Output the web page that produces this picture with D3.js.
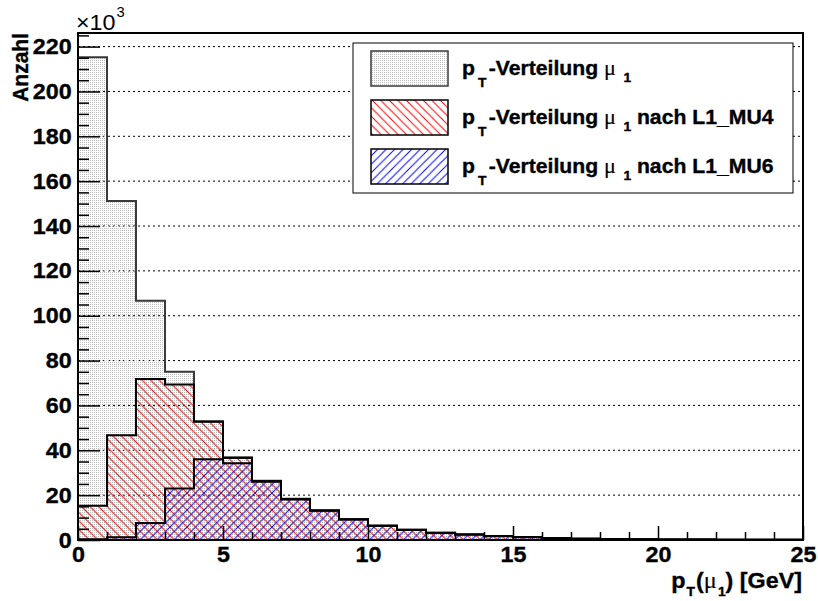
<!DOCTYPE html>
<html>
<head>
<meta charset="utf-8">
<script src="https://cdn.jsdelivr.net/npm/d3@7/dist/d3.min.js"></script>
<style>
  html, body { margin: 0; padding: 0; background: #fff; }
  svg { display: block; }
</style>
</head>
<body>
<svg id="chart" width="818" height="601"></svg>
<script>
// Histogram binning (GeV)
const binFirst = 0;
const binWidth = 1;
const xDomain = [0, 25];

// Entries per bin, in units of 10^3
const ptAll = [215.3, 151.2, 106.7, 75.0, 52.9, 36.9, 26.4, 18.4, 13.3, 9.2,
               6.4, 4.6, 3.2, 2.5, 1.8, 1.3, 0.9, 0.6, 0.45, 0.35,
               0.25, 0.2, 0.15, 0.1, 0.08];
const ptMU4 = [15.3, 46.7, 71.8, 69.3, 52.7, 36.6, 26.3, 18.3, 13.2, 9.2,
               6.4, 4.6, 3.2, 2.5, 1.8, 1.3, 0.9, 0.6, 0.45, 0.35,
               0.25, 0.2, 0.15, 0.1, 0.08];
const ptMU6 = [0.3, 1.2, 7.6, 23.0, 36.0, 34.2, 26.0, 18.1, 13.0, 9.1,
               6.3, 4.5, 3.1, 2.4, 1.7, 1.2, 0.85, 0.55, 0.4, 0.3,
               0.22, 0.18, 0.13, 0.09, 0.07];

const yTickValues = [0, 20, 40, 60, 80, 100, 120, 140, 160, 180, 200, 220];
const xTickValues = [0, 5, 10, 15, 20, 25];
const legendSuffix = ["", " nach L1_MU4", " nach L1_MU6"];

const SANS = "'Liberation Sans', Arial, Helvetica, sans-serif";
const SERIF = "'Liberation Serif', 'Times New Roman', serif";
const SX = 1.06;     // horizontal text stretch
const HEAVY = 0.35;  // extra outline on bold text

const svg = d3.select("#chart");
const frame = { left: 78, right: 803, top: 33, bottom: 540 };

const x = d3.scaleLinear().domain(xDomain).range([frame.left, frame.right]);
const yMax = 1.05 * d3.max(ptAll);
const y = d3.scaleLinear().domain([0, yMax]).range([frame.bottom, frame.top]);

function heavy(sel) {
  return sel.attr("stroke", "#000").attr("stroke-width", HEAVY).attr("paint-order", "stroke");
}

// ---- fill patterns ----
const defs = svg.append("defs");
defs.append("pattern")
  .attr("id", "dots").attr("patternUnits", "userSpaceOnUse")
  .attr("width", 2).attr("height", 2)
  .append("rect").attr("width", 1).attr("height", 1).attr("fill", "#bcbcbc");

const hs = 8.5;
defs.append("pattern")
  .attr("id", "hatchRed").attr("patternUnits", "userSpaceOnUse")
  .attr("width", hs).attr("height", hs)
  .append("path")
  .attr("d", `M0,0L${hs},${hs}M-1,${hs-1}L1,${hs+1}M${hs-1},-1L${hs+1},1`)
  .attr("stroke", "#ff0000").attr("stroke-width", 1).attr("fill", "none");
defs.append("pattern")
  .attr("id", "hatchBlue").attr("patternUnits", "userSpaceOnUse")
  .attr("width", hs).attr("height", hs)
  .append("path")
  .attr("d", `M0,${hs}L${hs},0M-1,1L1,-1M${hs-1},${hs+1}L${hs+1},${hs-1}`)
  .attr("stroke", "#0000ff").attr("stroke-width", 1).attr("fill", "none");

// ---- grid ----
svg.append("g")
  .selectAll("line")
  .data(yTickValues.filter(v => v > 0))
  .join("line")
  .attr("x1", frame.left).attr("x2", frame.right)
  .attr("y1", d => y(d)).attr("y2", d => y(d))
  .attr("stroke", "#000").attr("stroke-width", 1)
  .attr("stroke-dasharray", "2,3");

// ---- histograms ----
function stepPoints(values) {
  const pts = [[x(binFirst), y(0)]];
  values.forEach((v, i) => {
    const lo = binFirst + i * binWidth, hi = lo + binWidth;
    pts.push([x(lo), y(v)], [x(hi), y(v)]);
  });
  pts.push([x(binFirst + values.length * binWidth), y(0)]);
  return pts;
}
const line = d3.line();
const series = [
  { values: ptAll, fill: "url(#dots)", stroke: "#3a3a3a" },
  { values: ptMU4, fill: "url(#hatchRed)", stroke: "#000" },
  { values: ptMU6, fill: "url(#hatchBlue)", stroke: "#000" }
];
svg.append("g")
  .selectAll("path")
  .data(series)
  .join("path")
  .attr("d", d => line(stepPoints(d.values)) + "Z")
  .attr("fill", d => d.fill)
  .attr("stroke", d => d.stroke)
  .attr("stroke-width", 2)
  .attr("stroke-linejoin", "miter");

// ---- axes ----
function styleAxis(g) {
  g.select(".domain").remove();
  g.selectAll(".tick line").attr("stroke", "#000").attr("stroke-width", 1.5);
}
const yMinor = d3.range(0, 226, 5).filter(v => v % 20 !== 0);
const xMinor = d3.range(0, 26, 1).filter(v => v % 5 !== 0);

svg.append("g")
  .attr("transform", `translate(${frame.left},0)`)
  .call(d3.axisLeft(y).tickValues(yMinor).tickSizeInner(-11).tickSizeOuter(0).tickFormat(""))
  .call(styleAxis);
const yAx = svg.append("g")
  .attr("transform", `translate(${frame.left},0)`)
  .call(d3.axisLeft(y).tickValues(yTickValues).tickSizeInner(-22).tickSizeOuter(0).tickPadding(6))
  .call(styleAxis);
yAx.selectAll("text")
  .attr("font-family", SANS).attr("font-weight", "bold").attr("font-size", 22)
  .attr("fill", "#000").attr("transform", `scale(${SX},1)`)
  .call(heavy);

svg.append("g")
  .attr("transform", `translate(0,${frame.bottom})`)
  .call(d3.axisBottom(x).tickValues(xMinor).tickSizeInner(-8).tickSizeOuter(0).tickFormat(""))
  .call(styleAxis);
const xAx = svg.append("g")
  .attr("transform", `translate(0,${frame.bottom})`)
  .call(d3.axisBottom(x).tickValues(xTickValues).tickSizeInner(-14).tickSizeOuter(0).tickPadding(6))
  .call(styleAxis);
xAx.selectAll("text")
  .attr("font-family", SANS).attr("font-weight", "bold").attr("font-size", 22)
  .attr("fill", "#000").attr("transform", `scale(${SX},1)`)
  .call(heavy);

// frame
svg.append("rect")
  .attr("x", frame.left).attr("y", frame.top)
  .attr("width", frame.right - frame.left).attr("height", frame.bottom - frame.top)
  .attr("fill", "none").attr("stroke", "#000").attr("stroke-width", 2);

// ---- axis titles ----
const expo = svg.append("text")
  .attr("transform", `translate(76,30) scale(${SX},1)`)
  .attr("font-family", SANS).attr("font-size", 22).attr("fill", "#000");
expo.append("tspan").text("×10");
expo.append("tspan").attr("font-size", 14).attr("dy", -13).attr("dx", 1).text("3");

svg.append("text")
  .attr("transform", `translate(28,33) rotate(-90) scale(1,${SX})`)
  .attr("text-anchor", "end")
  .attr("font-family", SANS).attr("font-weight", "bold").attr("font-size", 21)
  .attr("fill", "#000")
  .call(heavy)
  .text("Anzahl");

const xt = svg.append("text")
  .attr("transform", `translate(802,588) scale(${SX},1)`)
  .attr("text-anchor", "end")
  .attr("font-family", SANS).attr("font-weight", "bold").attr("font-size", 22)
  .attr("fill", "#000")
  .call(heavy);
xt.append("tspan").text("p");
xt.append("tspan").attr("font-size", 13).attr("dy", 8).attr("dx", 1).text("T");
xt.append("tspan").attr("dy", -8).attr("dx", 1).text("(");
xt.append("tspan").attr("font-family", SERIF).attr("font-weight", "normal").attr("stroke-width", 0.15).attr("font-size", 23).text("μ");
xt.append("tspan").attr("font-size", 13).attr("dy", 8).attr("dx", 1).text("1");
xt.append("tspan").attr("dy", -8).text(") [GeV]");

// ---- legend ----
const leg = svg.append("g");
leg.append("rect")
  .attr("x", 353).attr("y", 43).attr("width", 440).attr("height", 150)
  .attr("fill", "#fff").attr("stroke", "#000").attr("stroke-width", 1);

const rowBase = [75, 124, 173];
series.forEach((s, i) => {
  leg.append("rect")
    .attr("x", 371).attr("y", rowBase[i] - 24).attr("width", 77).attr("height", 35)
    .attr("fill", "#fff");
  leg.append("rect")
    .attr("x", 371).attr("y", rowBase[i] - 24).attr("width", 77).attr("height", 35)
    .attr("fill", s.fill).attr("stroke", s.stroke).attr("stroke-width", 1.5);
  const t = leg.append("text")
    .attr("transform", `translate(462,${rowBase[i]}) scale(${SX},1)`)
    .attr("font-family", SANS).attr("font-weight", "bold").attr("font-size", 20)
    .attr("fill", "#000")
    .call(heavy);
  t.append("tspan").text("p");
  t.append("tspan").attr("font-size", 13).attr("dy", 12).attr("dx", 3).text("T");
  t.append("tspan").attr("dy", -12).attr("dx", 2).text("-Verteilung ");
  t.append("tspan").attr("font-family", SERIF).attr("font-weight", "normal").attr("stroke-width", 0.15).attr("font-size", 21).text("μ");
  t.append("tspan").attr("font-size", 13).attr("dy", 7).attr("dx", 7).text("1");
  t.append("tspan").attr("dy", -7).text(legendSuffix[i]);
});
</script>
</body>
</html>
